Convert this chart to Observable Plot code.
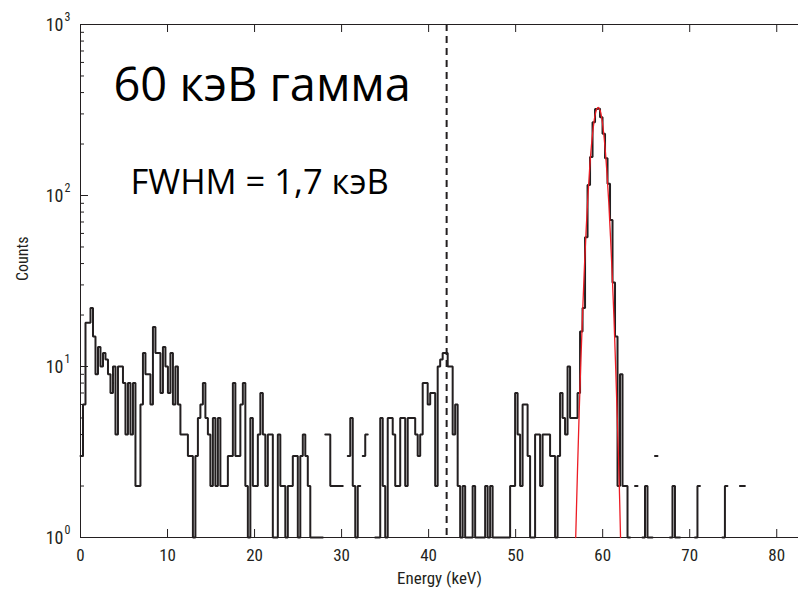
<!DOCTYPE html>
<html><head><meta charset="utf-8">
<script src="https://cdn.jsdelivr.net/npm/d3@7"></script>
<script src="https://cdn.jsdelivr.net/npm/@observablehq/plot@0.6"></script>
<style>
html,body{margin:0;padding:0;background:#fff;overflow:hidden}
</style></head><body><div id="chart"></div>
<script>
// ---- data ----
const binWidth = 0.287; // keV per bin
const counts = [
  3,6,18,18,22,15,9,13,10,12,
  11,9,7,10,4,10,10,8,4,8,
  4,8,2,2,6,12,9,9,6,17,
  12,12,7,13,10,7,12,6,10,6,
  4,4,4,3,3,1,3,5,6,8,
  5,4,2,5,2,5,2,2,2,3,
  3,8,3,3,6,8,2,1,5,2,
  2,4,7,4,2,4,4,1,1,4,
  2,2,1,2,2,3,3,1,3,4,
  3,2,1,1,1,1,1,0,4,4,
  2,2,2,2,2,0,0,3,5,2,
  1,2,0,3,4,0,0,0,1,1,
  5,2,1,5,5,4,2,2,5,5,
  2,5,5,5,4,3,4,8,8,6,
  7,7,2,10,11,12,12,10,10,4,
  6,2,1,2,1,1,1,2,1,1,
  1,1,2,1,2,1,1,1,1,1,
  1,1,2,2,7,4,2,6,6,3,
  1,1,4,4,2,4,4,4,3,3,
  1,3,7,5,4,10,5,5,5,7,
  16,22,57,115,168,268,320,322,287,230,
  165,117,72,31,15,2,9,2,2,1,
  0,0,2,0,0,1,2,1,1,0,
  3,0,0,0,0,0,1,2,1,1,
  0,0,0,0,0,0,1,2,0,0,
  0,0,0,0,0,0,0,1,2,0,
  0,0,0,0,2,2,0,0,0,0,
  0,0,0,0,0,0,0,0,0,0
];
// Gaussian fit curve
const fitEnergy = [56.9,57.1,57.3,57.5,57.7,57.9,58.1,58.3,58.5,58.7,58.9,59.1,59.3,59.5,59.7,59.9,60.1,60.3,60.5,60.7,60.9,61.1,61.3,61.5,61.7,61.9,62.05];
const fitCounts = [1.0,2.4,5.4,11,21,38,63,98,143,194,245,290,319,328,315,282,235,183,133,91,57,34,19,9.6,4.6,2.1,1.0];
const markerEnergy = [42.07];
const xTicks = [0,10,20,30,40,50,60,70,80];
const yMajor = [1,10,100,1000];
const yExponents = ["0","1","2","3"];
const yMinor = [2,3,4,5,6,7,8,9,20,30,40,50,60,70,80,90,200,300,400,500,600,700,800,900];
const titleText = ["60 кэВ гамма"];
const fwhmText = ["FWHM = 1,7 кэВ"];
const xLabel = ["Energy (keV)"];
const yLabel = ["Counts"];

// ---- build stairs ----
const stairs = [];
counts.forEach((c, i) => {
  const v = c > 0 ? c : NaN;
  stairs.push({x: i * binWidth, y: v}, {x: (i + 1) * binWidth, y: v});
});
const fit = fitEnergy.map((e, i) => ({x: e, y: fitCounts[i]}));

const W = 798, H = 590, ML = 80, MR = 0, MT = 24, MB = 53;
const FW = W - ML - MR, FH = H - MT - MB;
const ink = "#231f20";
const tickFont = '"Liberation Sans Narrow","Roboto Condensed","Roboto",sans-serif';
const annFont = '"Open Sans",sans-serif';

const chart = Plot.plot({
  width: W, height: H,
  marginLeft: ML, marginRight: MR, marginTop: MT, marginBottom: MB,
  style: {background: "#fff", fontFamily: tickFont, overflow: "visible"},
  x: {domain: [0, 82.5], label: null},
  y: {type: "log", domain: [1, 1000], axis: null, label: null},
  marks: [
    // frame lines
    Plot.ruleY([1, 1000], {stroke: ink, strokeWidth: 1}),
    Plot.ruleX([0], {stroke: ink, strokeWidth: 1}),
    // inward ticks
    Plot.ruleX(xTicks.slice(1), {insetTop: FH - 8, stroke: ink}),
    Plot.ruleX(xTicks.slice(1), {insetBottom: FH - 8, stroke: ink}),
    Plot.ruleY(yMajor, {insetRight: FW - 8, stroke: ink}),
    Plot.ruleY(yMinor, {insetRight: FW - 4, stroke: ink}),
    // x tick labels
    Plot.axisX(xTicks, {tickSize: 0, tickPadding: 11, fontSize: 17, fill: ink, label: null}),
    // y tick labels: 10 with exponent
    Plot.text(yMajor, {y: d => d, text: () => "10", frameAnchor: "left", dx: -17, dy: 1, textAnchor: "end", lineAnchor: "middle", fontSize: 18, fill: ink}),
    Plot.text(yMajor, {y: d => d, text: (d, i) => yExponents[i], frameAnchor: "left", dx: -16, dy: -7, textAnchor: "start", lineAnchor: "middle", fontSize: 12, fill: ink}),
    // axis labels
    Plot.text(xLabel, {frameAnchor: "bottom", dy: 41, lineAnchor: "middle", fontSize: 17, fill: ink}),
    Plot.text(yLabel, {frameAnchor: "left", dx: -58, rotate: -90, lineAnchor: "middle", fontSize: 16, fill: ink}),
    // dashed marker
    Plot.ruleX(markerEnergy, {stroke: ink, strokeWidth: 2, strokeDasharray: "7,5"}),
    // histogram
    Plot.line(stairs, {x: "x", y: "y", stroke: ink, strokeWidth: 2, strokeLinejoin: "miter"}),
    // fit
    Plot.line(fit, {x: "x", y: "y", stroke: "#ed1c24", strokeWidth: 1.3, curve: "catmull-rom"}),
    // annotations
    Plot.text(titleText, {frameAnchor: "top-left", dx: 33, dy: 76, textAnchor: "start", lineAnchor: "bottom", fontSize: 47, fontFamily: annFont, fill: "#000"}),
    Plot.text(fwhmText, {frameAnchor: "top-left", dx: 50, dy: 169, textAnchor: "start", lineAnchor: "bottom", fontSize: 34.5, fontFamily: annFont, fill: "#000"})
  ]
});
document.getElementById("chart").appendChild(chart);
</script>
</body></html>
